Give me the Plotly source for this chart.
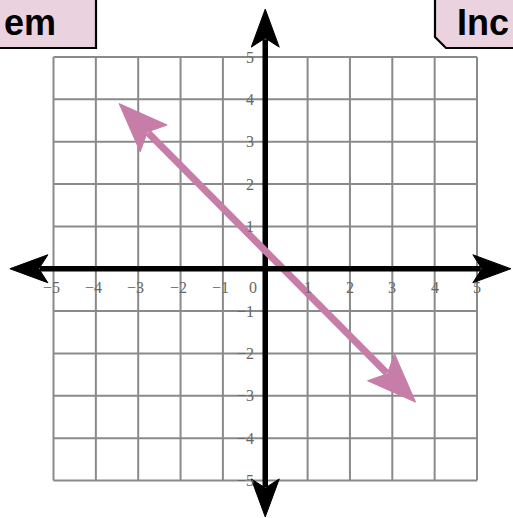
import numpy as np
import plotly.graph_objects as go

# ---------------- data ----------------
ticks = [-5, -4, -3, -2, -1, 0, 1, 2, 3, 4, 5]
x_tick_labels = ["−5", "−4", "−3", "−2", "−1", "0", "1", "2", "3", "4", "5"]
y_tick_values = [5, 4, 3, 2, 1, -1, -2, -3, -4, -5]
y_tick_labels = ["5", "4", "3", "2", "1", "−1", "−2", "−3", "−4", "−5"]
grid_min, grid_max = -5, 5
axis_x_extent = [-6.03, 5.80]
axis_y_extent = [-5.86, 6.13]
line_x = [-3.45, 3.55]
line_y = [3.90, -3.15]
header_left = "em"
header_right = "Inc"

# ---------------- layout geometry ----------------
W, H = 513, 518
PX = 42.35          # pixels per unit
X0_PX = 53.5        # pixel column of x = -5
Y5_PX = 57.0        # pixel row of y = 5
xrange = [-5 - X0_PX / PX, -5 + (W - X0_PX) / PX]
yrange = [5 - (H - Y5_PX) / PX, 5 + Y5_PX / PX]

GRID_COLOR = "#8a8a8a"
PINK = "#C67DA7"
LABEL_COLOR = "#666666"


def arrow_poly(tip, other, length_px, half_px, notch_px):
    tip = np.array(tip, float)
    d = tip - np.array(other, float)
    d /= np.linalg.norm(d)
    n = np.array([-d[1], d[0]])
    L, Hh, N = length_px / PX, half_px / PX, notch_px / PX
    pts = [tip, tip - L * d + Hh * n, tip - N * d, tip - L * d - Hh * n, tip]
    return [p[0] for p in pts], [p[1] for p in pts], tip - (N + 1 / PX) * d


fig = go.Figure()

# grid
gx, gy = [], []
for t in ticks:
    gx += [t, t, None]
    gy += [grid_min, grid_max, None]
    gx += [grid_min, grid_max, None]
    gy += [t, t, None]
fig.add_trace(go.Scatter(x=gx, y=gy, mode="lines", line=dict(color=GRID_COLOR, width=2),
                         hoverinfo="skip", showlegend=False))


def add_arrow_line(xs, ys, color, width, L, Hh, N):
    p0, p1 = (xs[0], ys[0]), (xs[1], ys[1])
    ax0, ay0, s0 = arrow_poly(p0, p1, L, Hh, N)
    ax1, ay1, s1 = arrow_poly(p1, p0, L, Hh, N)
    fig.add_trace(go.Scatter(x=[s0[0], s1[0]], y=[s0[1], s1[1]], mode="lines",
                             line=dict(color=color, width=width), hoverinfo="skip", showlegend=False))
    for axs, ays in ((ax0, ay0), (ax1, ay1)):
        fig.add_trace(go.Scatter(x=axs, y=ays, mode="lines", fill="toself", fillcolor=color,
                                 line=dict(color=color, width=1), hoverinfo="skip", showlegend=False))


# y axis, pink line, x axis
add_arrow_line([0, 0], axis_y_extent, "black", 5.5, 38, 14, 29)
add_arrow_line(line_x, line_y, PINK, 7, 49, 19, 40)
add_arrow_line(axis_x_extent, [0, 0], "black", 5.5, 38, 14, 29)

annotations = []
font = dict(family="Liberation Serif, Times New Roman, serif", size=16, color=LABEL_COLOR)
lab_y = -19 / PX
for v, lab in zip(ticks, x_tick_labels):
    if v < 0:
        annotations.append(dict(x=v + 8 / PX, y=lab_y, text=lab, showarrow=False,
                                xanchor="right", yanchor="middle", font=font))
    elif v == 0:
        annotations.append(dict(x=-12 / PX, y=lab_y, text=lab, showarrow=False,
                                xanchor="center", yanchor="middle", font=font))
    else:
        annotations.append(dict(x=v, y=lab_y, text=lab, showarrow=False,
                                xanchor="center", yanchor="middle", font=font))
for v, lab in zip(y_tick_values, y_tick_labels):
    annotations.append(dict(x=-9 / PX, y=v, text=lab, showarrow=False,
                            xanchor="right", yanchor="middle", font=font))

# header tabs
hfont = dict(family="Liberation Sans, Arial, sans-serif", size=36, color="black")
annotations.append(dict(xref="paper", yref="paper", x=2 / W, y=1 - 22 / H, text="<b>%s</b>" % header_left,
                        showarrow=False, xanchor="left", yanchor="middle", font=hfont))
annotations.append(dict(xref="paper", yref="paper", x=1 - 2 / W, y=1 - 22 / H, text="<b>%s</b>" % header_right,
                        showarrow=False, xanchor="right", yanchor="middle", font=hfont))

def px(x, y):
    return x / W, 1 - y / H

shapes = []
x0, y0 = px(-5, -5)
x1, y1 = px(96, 48)
shapes.append(dict(type="rect", xref="paper", yref="paper", x0=x0, y0=y1, x1=x1, y1=y0,
                   fillcolor="#EBD2DF", line=dict(color="black", width=2.2), layer="below"))
pts = [px(435, -5), px(435, 37), px(446, 48), px(520, 48), px(520, -5)]
path = "M " + " L ".join("%.5f,%.5f" % p for p in pts) + " Z"
shapes.append(dict(type="path", xref="paper", yref="paper", path=path,
                   fillcolor="#EBD2DF", line=dict(color="black", width=2.2), layer="below"))

fig.update_layout(
    width=W, height=H, autosize=False,
    margin=dict(l=0, r=0, t=0, b=0),
    paper_bgcolor="white", plot_bgcolor="white",
    xaxis=dict(range=xrange, visible=False, fixedrange=True),
    yaxis=dict(range=yrange, visible=False, fixedrange=True),
    annotations=annotations, shapes=shapes, showlegend=False,
)

fig.write_html("out.html", config={"displayModeBar": False},
               post_script="document.body.style.margin='0';")
